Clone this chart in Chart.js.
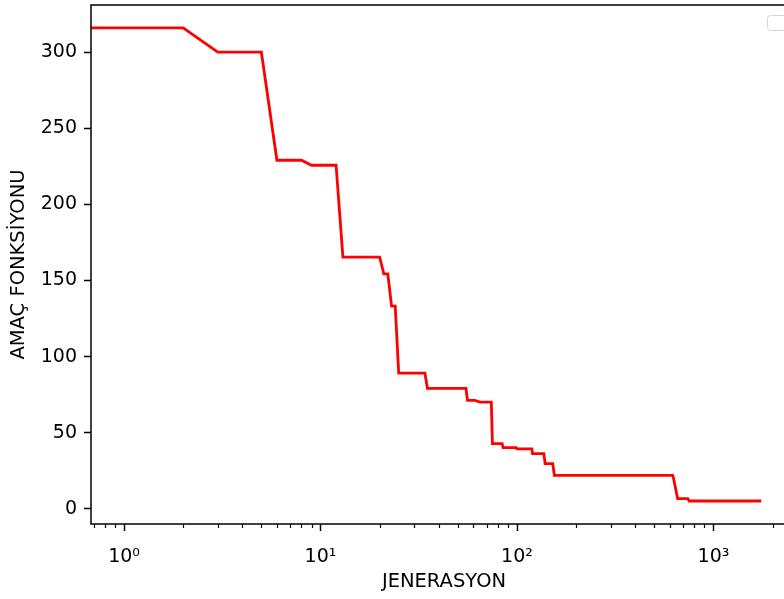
<!DOCTYPE html>
<html>
<head>
<meta charset="utf-8">
<script src="https://cdn.jsdelivr.net/npm/chart.js@4.4.1/dist/chart.umd.min.js"></script>
<style>
html,body{margin:0;padding:0;overflow:hidden;background:#fff;width:784px;height:599px;}
canvas{display:block;}
</style>
</head>
<body>
<canvas id="c" width="800" height="599"></canvas>
<script>
// Generation (x) and objective function value (y) at the breakpoints of the curve
const generations = [0, 2, 3, 5, 6, 8, 9, 12, 13, 20, 21, 22, 23, 24, 25, 34, 35, 55, 56, 61, 65, 74, 75, 84, 85, 99, 100, 119, 120, 137, 139, 152, 155, 620, 625, 657, 740, 752, 1750];
const objective   = [316, 316, 300, 300, 229, 229, 225.7, 225.7, 165.3, 165.3, 154.4, 154.4, 133.1, 133.1, 89.1, 89.1, 79.1, 79.1, 71.2, 71.2, 70.1, 70.1, 42.8, 42.8, 40.2, 40.2, 39.3, 39.3, 36.2, 36.2, 29.7, 29.7, 22, 22, 20.5, 6.7, 6.7, 5.1, 5.1];
const yTicks = [0, 50, 100, 150, 200, 250, 300];
const xMajorTicks = [1, 10, 100, 1000];
const xMinorTicks = [0.7, 0.8, 0.9, 2, 3, 4, 5, 6, 7, 8, 9, 20, 30, 40, 50, 60, 70, 80, 90, 200, 300, 400, 500, 600, 700, 800, 900, 2000];
const xLabels = {1: '10\u2070', 10: '10\u00B9', 100: '10\u00B2', 1000: '10\u00B3'};
const xTitle = 'JENERASYON';
const yTitle = 'AMAÇ FONKSİYONU';

Chart.defaults.font.family = "'DejaVu Sans', sans-serif";
Chart.defaults.font.size = 19;
Chart.defaults.color = '#000';

const points = generations.map((g, i) => ({x: g, y: objective[i]}));

const framePlugin = {
  id: 'frame',
  afterDraw(chart) {
    const {ctx, chartArea: a, scales} = chart;
    ctx.save();
    ctx.strokeStyle = '#000';
    ctx.lineWidth = 1.2;
    const xs = scales.x;
    xMinorTicks.forEach(v => {
      if (v < xs.min || v > xs.max) return;
      const px = Math.round(xs.getPixelForValue(v)) + 0.5;
      ctx.beginPath();
      ctx.moveTo(px, a.bottom);
      ctx.lineTo(px, a.bottom + 4);
      ctx.stroke();
    });
    ctx.lineWidth = 1.5;
    ctx.strokeRect(a.left, a.top, a.right - a.left, a.bottom - a.top);
    ctx.strokeStyle = '#d6d6d6';
    ctx.lineWidth = 1;
    ctx.fillStyle = 'rgba(255,255,255,0.8)';
    ctx.beginPath();
    ctx.roundRect(767.5, 15.5, 26, 15, 3);
    ctx.fill();
    ctx.stroke();
    ctx.restore();
  }
};

new Chart(document.getElementById('c'), {
  type: 'line',
  data: {
    datasets: [{
      data: points,
      borderColor: '#ff0000',
      backgroundColor: '#ff0000',
      borderWidth: 2.8,
      pointRadius: 0,
      tension: 0,
      fill: false
    }]
  },
  options: {
    responsive: false,
    animation: false,
    devicePixelRatio: 1,
    layout: {padding: {top: 5, right: 3, left: 0, bottom: 0}},
    plugins: {legend: {display: false}, tooltip: {enabled: false}},
    scales: {
      x: {
        type: 'logarithmic',
        min: 0.679,
        max: 2661,
        border: {display: false},
        grid: {
          drawOnChartArea: false,
          tickLength: 7,
          tickWidth: 1.5,
          tickColor: (c) => (c.tick && xMajorTicks.includes(c.tick.value)) ? '#000' : 'rgba(0,0,0,0)'
        },
        ticks: {
          autoSkip: false,
          maxRotation: 0,
          padding: 15,
          callback: (v) => xLabels[v] || ''
        },
        afterBuildTicks: (s) => { s.ticks = xMajorTicks.map(v => ({value: v})); },
        afterFit: (s) => { s.height = 75; s.paddingLeft = 0; s.paddingRight = 0; },
        title: {display: true, text: xTitle, font: {size: 19.5}, padding: {top: 0, bottom: 5}}
      },
      y: {
        type: 'linear',
        min: -10,
        max: 331,
        border: {display: false},
        grid: {drawOnChartArea: false, tickLength: 7, tickWidth: 1.5, tickColor: '#000'},
        ticks: {padding: 7},
        afterBuildTicks: (s) => { s.ticks = yTicks.map(v => ({value: v})); },
        afterFit: (s) => { s.width = 91; s.paddingTop = 0; s.paddingBottom = 0; },
        title: {display: true, text: yTitle, font: {size: 19.5}, padding: {top: 7, bottom: 0}}
      }
    }
  },
  plugins: [framePlugin]
});
</script>
</body>
</html>
